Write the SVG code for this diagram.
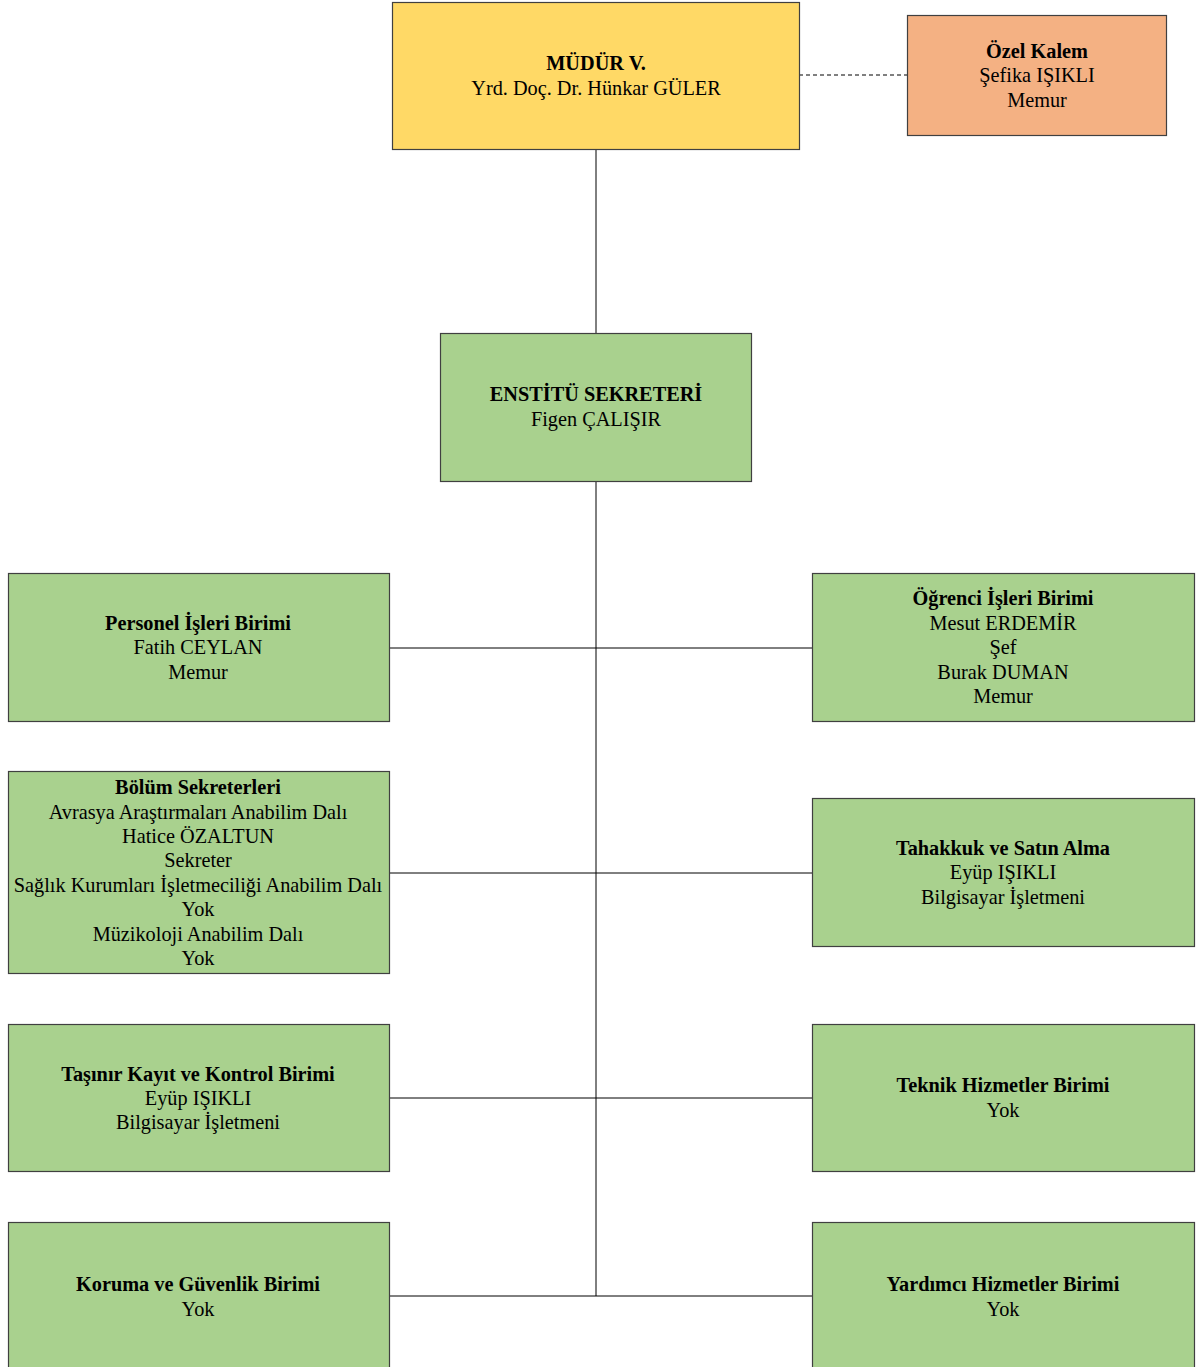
<svg xmlns="http://www.w3.org/2000/svg" width="1197" height="1367" viewBox="0 0 1197 1367">
<style>
.box{stroke:#404040;stroke-width:1.2}
.g{fill:#A9D18E}
.y{fill:#FFD966}
.o{fill:#F4B183}
text{font-family:"Liberation Serif","Times New Roman",serif;font-size:20.3px;fill:#000;text-anchor:middle}
.b{font-weight:bold}
.c{stroke:#000;stroke-width:1;fill:none}
</style>
<rect width="1197" height="1367" fill="#fff"/>
<g id="connectors">
<line class="c" x1="596" y1="149" x2="596" y2="333"/>
<line class="c" x1="596" y1="481" x2="596" y2="1296"/>
<line class="c" x1="389" y1="648" x2="812" y2="648"/>
<line class="c" x1="389" y1="873" x2="812" y2="873"/>
<line class="c" x1="389" y1="1098" x2="812" y2="1098"/>
<line class="c" x1="389" y1="1296" x2="812" y2="1296"/>
<line class="c" x1="799" y1="75" x2="907" y2="75" stroke="#555" stroke-dasharray="4,3"/>
</g>
<g id="mudur">
<rect class="box y" x="392.5" y="2.5" width="407" height="147"/>
<text class="b" x="596" y="70">MÜDÜR V.</text>
<text x="596" y="95">Yrd. Doç. Dr. Hünkar GÜLER</text>
</g>
<g id="ozel-kalem">
<rect class="box o" x="907.5" y="15.5" width="259" height="120"/>
<text class="b" x="1037" y="58">Özel Kalem</text>
<text x="1037" y="82">Şefika IŞIKLI</text>
<text x="1037" y="107">Memur</text>
</g>
<g id="enstitu-sekreteri">
<rect class="box g" x="440.5" y="333.5" width="311" height="148"/>
<text class="b" x="596" y="401">ENSTİTÜ SEKRETERİ</text>
<text x="596" y="426">Figen ÇALIŞIR</text>
</g>
<g id="personel">
<rect class="box g" x="8.5" y="573.5" width="381" height="148"/>
<text class="b" x="198" y="630">Personel İşleri Birimi</text>
<text x="198" y="654">Fatih CEYLAN</text>
<text x="198" y="679">Memur</text>
</g>
<g id="ogrenci">
<rect class="box g" x="812.5" y="573.5" width="382" height="148"/>
<text class="b" x="1003" y="605">Öğrenci İşleri Birimi</text>
<text x="1003" y="630">Mesut ERDEMİR</text>
<text x="1003" y="654">Şef</text>
<text x="1003" y="679">Burak DUMAN</text>
<text x="1003" y="703">Memur</text>
</g>
<g id="bolum">
<rect class="box g" x="8.5" y="771.5" width="381" height="202"/>
<text class="b" x="198" y="794">Bölüm Sekreterleri</text>
<text x="198" y="819">Avrasya Araştırmaları Anabilim Dalı</text>
<text x="198" y="843">Hatice ÖZALTUN</text>
<text x="198" y="867">Sekreter</text>
<text x="198" y="892">Sağlık Kurumları İşletmeciliği Anabilim Dalı</text>
<text x="198" y="916">Yok</text>
<text x="198" y="941">Müzikoloji Anabilim Dalı</text>
<text x="198" y="965">Yok</text>
</g>
<g id="tahakkuk">
<rect class="box g" x="812.5" y="798.5" width="382" height="148"/>
<text class="b" x="1003" y="855">Tahakkuk ve Satın Alma</text>
<text x="1003" y="879">Eyüp IŞIKLI</text>
<text x="1003" y="904">Bilgisayar İşletmeni</text>
</g>
<g id="tasinir">
<rect class="box g" x="8.5" y="1024.5" width="381" height="147"/>
<text class="b" x="198" y="1081">Taşınır Kayıt ve Kontrol Birimi</text>
<text x="198" y="1105">Eyüp IŞIKLI</text>
<text x="198" y="1129">Bilgisayar İşletmeni</text>
</g>
<g id="teknik">
<rect class="box g" x="812.5" y="1024.5" width="382" height="147"/>
<text class="b" x="1003" y="1092">Teknik Hizmetler Birimi</text>
<text x="1003" y="1117">Yok</text>
</g>
<g id="koruma">
<rect class="box g" x="8.5" y="1222.5" width="381" height="150"/>
<text class="b" x="198" y="1291">Koruma ve Güvenlik Birimi</text>
<text x="198" y="1316">Yok</text>
</g>
<g id="yardimci">
<rect class="box g" x="812.5" y="1222.5" width="382" height="150"/>
<text class="b" x="1003" y="1291">Yardımcı Hizmetler Birimi</text>
<text x="1003" y="1316">Yok</text>
</g>
</svg>
